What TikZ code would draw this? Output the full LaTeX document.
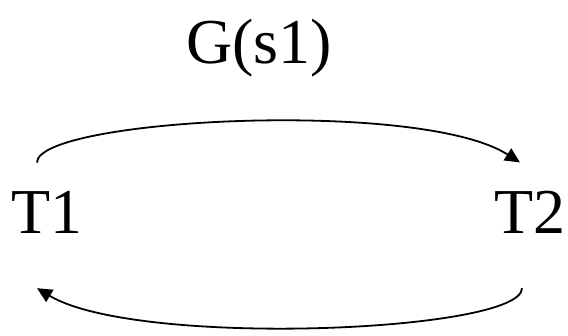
\documentclass[tikz,border=0pt]{standalone}
\usepackage{fontspec}
\setmainfont{Liberation Serif}
\usetikzlibrary{arrows.meta,calc}
\begin{document}
\begin{tikzpicture}[x=1pt,y=-1pt,
  lbl/.style={inner sep=0pt,anchor=base west,font=\fontsize{64}{64}\selectfont},
  arc/.style={line width=1.8pt,-{Triangle[length=15pt,width=14pt]}}]
\useasboundingbox (0,0) rectangle (568,335);
\node[lbl] (G) at (186,63) {G(s1)};
\node[lbl] (T1) at (11,233) {T1};
\node[lbl] (T2) at (494,233) {T2};
\coordinate (a1) at ($(T1.north west)+(26,-28)$);
\coordinate (a2) at ($(T2.north west)+(26,-28)$);
\coordinate (b1) at ($(T2.south west)+(28,55)$);
\coordinate (b2) at ($(T1.south west)+(26,55)$);
\draw[arc] (a1) .. controls ($(a1)+(0,-44)$) and ($(a2)+(-100,-64)$) .. (a2);
\draw[arc] (b1) .. controls ($(b1)+(0,44)$) and ($(b2)+(100,60)$) .. (b2);
\end{tikzpicture}
\end{document}
